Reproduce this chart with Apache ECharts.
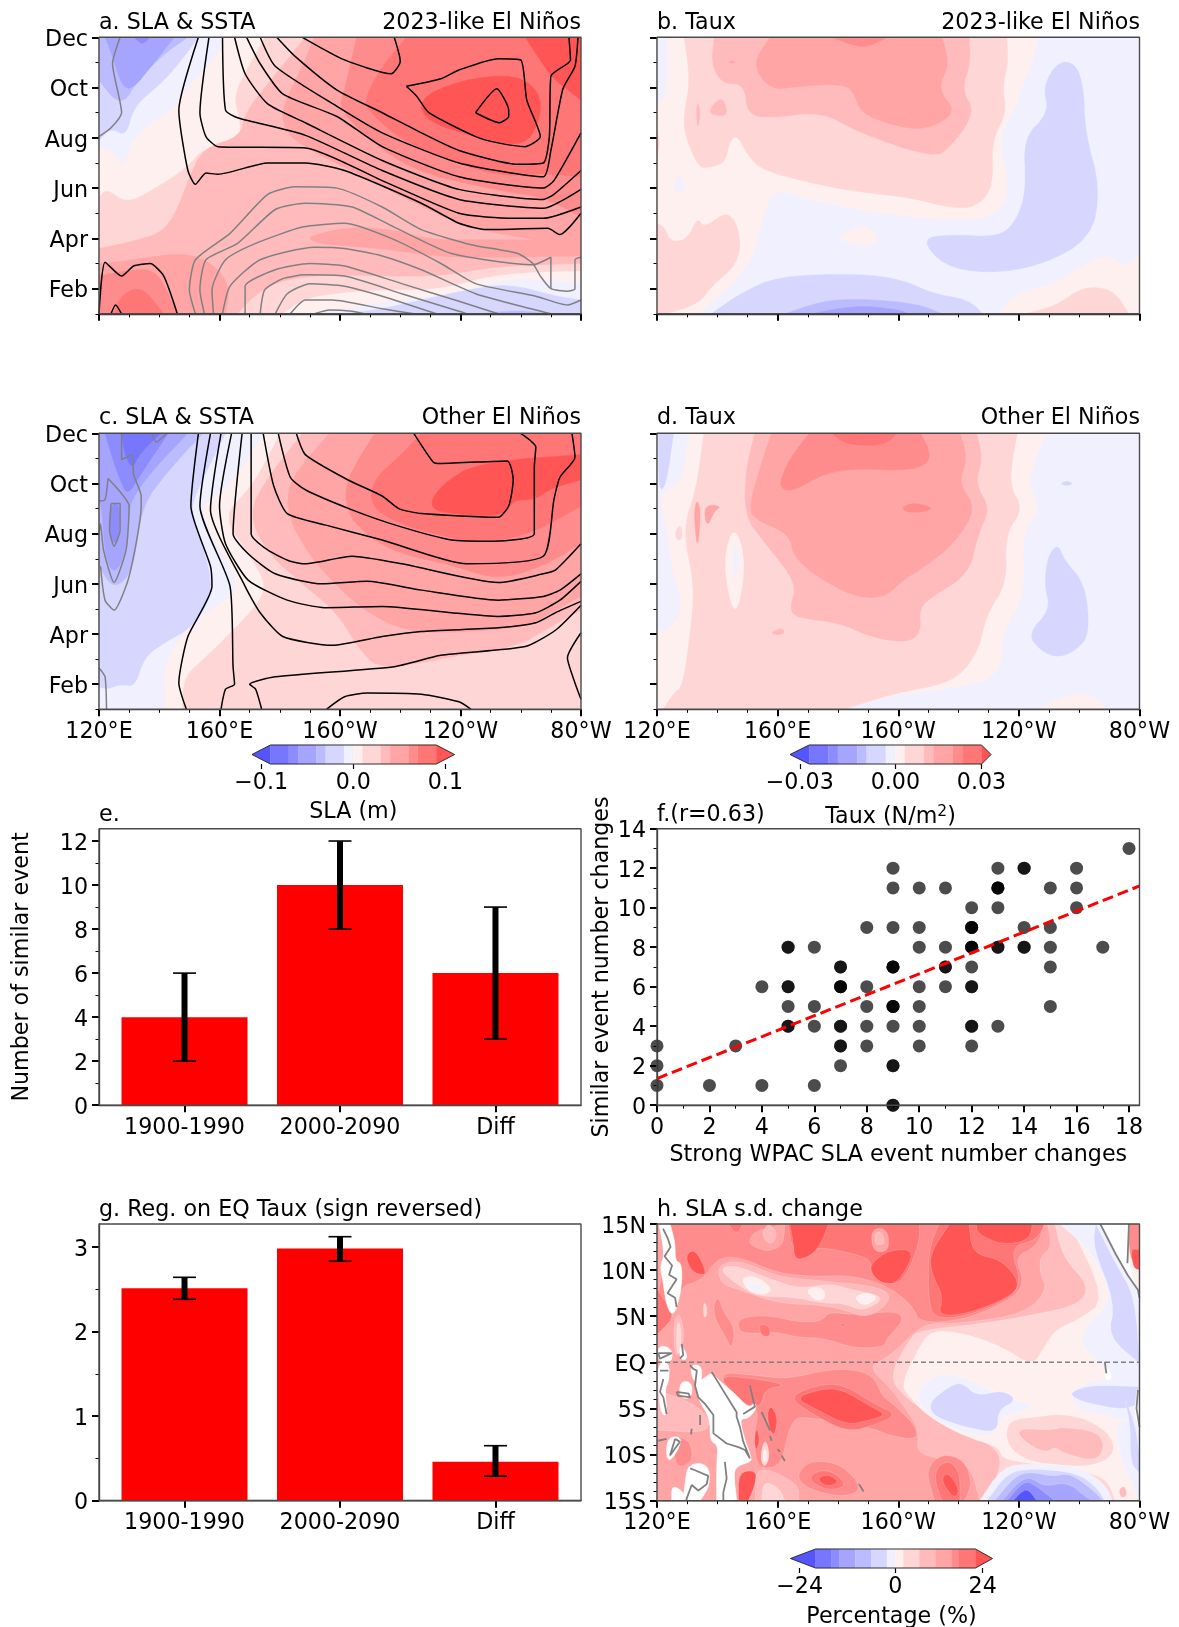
<!DOCTYPE html>
<html><head><meta charset="utf-8">
<style>html,body{margin:0;padding:0;background:#fff}#c{width:1179px;height:1627px}</style>
<script src="https://cdn.jsdelivr.net/npm/echarts@6/dist/echarts.min.js"></script>
</head><body><div id="c"></div>
<script>
// ---------- shared labels and colours ----------
const lonTicks=[120,160,200,240,280], lonLabels=['120°E','160°E','160°W','120°W','80°W'], lonMinor=[130,140,150,170,180,190,210,220,230,250,260,270];
const monthTicks=[2,4,6,8,10,12], monthLabels=['Feb','Apr','Jun','Aug','Oct','Dec'], monthMinor=[1,3,5,7,9,11];
const latTicks=[15,10,5,0,-5,-10,-15], latLabels=['15N','10N','5N','EQ','5S','10S','15S'];
const latMinor=[14,13,12,11,9,8,7,6,4,3,2,1,-1,-2,-3,-4,-6,-7,-8,-9,-11,-12,-13,-14];
const COL={n7:'#5555ff',n6:'#7676ff',n5:'#8c8cff',n4:'#a5a5ff',n3:'#bbbbff',n2:'#d6d6ff',n1:'#f0f0ff',p1:'#fff0f0',p2:'#ffd6d6',p3:'#ffbbbb',p4:'#ffa5a5',p5:'#ff8c8c',p6:'#ff7676',p7:'#ff5555',w:'#ffffff'};
const cbOrder=['n7','n6','n5','n4','n3','n2','n1','p1','p2','p3','p4','p5','p6','p7'];
// ---------- panel a : filled regions (lon, month) ----------
const fullMonth=[[120,12],[280,12],[280,1],[120,1]];
const aBP1=[[280,2.7],[252.5,2.6],[233.5,1.95],[214,1.95],[197.5,1.8],[187.5,1.55],[181,1],[280,1]];
const aBN1=[[280,2.2],[257.5,2.45],[239.5,1.85],[220.5,1.55],[201.5,1.2],[191.5,1],[280,1]];
const aBN2=[[280,1.55],[271.5,1.7],[256,2.2],[242,1.95],[227,1.55],[214,1.2],[201.5,1],[280,1]];
const aBN3=[[246,1],[259,1.15],[270,1]];
const aP1=[[120,12],[175,12],[169.5,10.85],[164.5,9.65],[166.5,8.85],[167,7.9],[154.5,7.6],[149.5,6.85],[138,5.95],[129,5.4],[122.5,6],[120,5.65]];
const aN1=[[120,12],[162,12],[158,11.1],[146.5,9.65],[145.5,9.25],[134,8.3],[130,7.65],[128.5,6.85],[125,7.4],[120,7.65]];
const aN2=[[120,12],[153,12],[146.5,10.95],[140.5,10.15],[131.5,9.25],[129,8.05],[124,8.4],[120,7.9]];
const aN3=[[120,12],[149.5,12],[140.5,11.25],[131.5,10.05],[129,9.5],[125,9.5],[120,10.3]];
const aN4=[[122,12],[145,12],[138,10.95],[131,9.9],[127.5,10.1],[124.5,11.25]];
const aN5=[[131.5,12],[137,12],[134.5,11.7]];
const aP3=[[188.5,12],[280,12],[280,3],[252.5,2.9],[233.5,2.5],[214,2.5],[195,2.55],[181,2.35],[172,1.8],[166,1],[120,1],[120,3.6],[130,3.85],[140.5,4.2],[145.5,5],[149.5,6.3],[154.5,7.6],[167,8.05],[168.5,9],[176,10.15]];
const aP4=[[191.5,12],[280,12],[280,3.6],[265,3.95],[245,4.35],[227,5.25],[208,6.45],[183.5,7.9],[180.5,8.85],[182.5,9.65],[187.5,10.85]];
const aP4b=[[188.5,4],[195,4.25],[204,4.45],[218,4.35],[229.5,3.95],[245,3.95],[265,3.95],[280,3.8],[280,3.3],[252.5,3.25],[233.5,3.25],[214,3.6],[195,3.75]];
const aP4c=[[120,3],[131.5,3.15],[148,3.45],[158,3],[163.5,2.1],[162,1],[120,1]];
const aP5=[[205.5,12],[280,12],[280,4.85],[267.5,5.65],[252.5,5.9],[227,6.6],[214,7.5],[199.5,9.1],[201.5,9.9]];
const aP5c=[[120,2.5],[130,2.75],[139,2.75],[144,1.55],[146,1],[120,1]];
const aP6=[[222,12],[280,12],[280,6.45],[267.5,6.6],[252.5,6.45],[233.5,7.25],[220.5,7.9],[209,9.1],[208.5,9.65],[214,10.85]];
const aP6c=[[125,1],[126.5,1.55],[130,1.95],[135,2],[141.5,1]];
const aP7=[[225.5,9.5],[239.5,10.3],[259,10.55],[267.5,9.65],[265,8.2],[259,7.65],[245,8.05],[229.5,8.6]];
const aP7b=[[261.5,12],[280,12],[280,9.5],[274,10.05],[270,10.45],[265,11.35]];
// panel a : contours
const aBlack=[
[[218,12],[220,11.05],[217,10.55],[201.5,11.1],[187.5,12]],
[[222,10.05],[233.5,10.35],[239.5,10.7],[252.5,11.15],[260,11.1],[262,9.5],[266.5,8.05],[261.5,7.65],[252.5,7.8],[245,8.05],[229.5,9],[225.5,9.65],[222,10.05]],
[[245,9],[252,9.95],[256,9.1],[256,8.85],[253,8.6],[245,9]],
[[179,12],[185,11.25],[199,9.9],[214,9],[227,8.2],[239.5,7.5],[259,6.95],[267.5,7],[269.5,8.05],[270,10.45],[276.5,11.1],[276,12]],
[[173.5,12],[178.5,10.85],[199,9.25],[214,8.2],[239.5,7],[267.5,6.45],[270,7.5],[274,9.95],[278,10.85],[279,12]],
[[169,12],[173.5,10.95],[181,9.75],[199,8.85],[214,7.65],[239.5,6.45],[267.5,6],[271,6.3],[280,8.2]],
[[165,12],[168.5,10.55],[176,9.35],[188.5,8.6],[214,7.1],[239.5,5.95],[267.5,5.55],[271,5.75],[280,6.7]],
[[161,12],[162,9.1],[166,8.8],[188.5,8.1],[214,6.7],[239.5,5.55],[267.5,5.2],[280,5.95]],
[[156.5,12],[153.5,9],[155.5,8.05],[159.5,7.65],[188.5,7.6],[214,6.3],[239.5,5],[257.5,4.8],[267.5,4.8],[280,5.25]],
[[153,12],[146.5,9.1],[149.5,6.7],[152,6.15],[155.5,6.6],[159.5,6.55],[176,7],[188.5,7],[201.5,6.7],[227,5.4],[239.5,4.6],[248.5,4.35],[269,4.4],[273,4.15],[280,5]],
[[120,1],[122,3.05],[127.5,2.5],[131.5,2.9],[137,3],[141.5,2.5],[146,1]],
[[124,1],[125.5,1.35],[127.5,1]]];
const aGray=[
[[127,12],[124.5,10.95],[127.5,9],[124,8.4],[120,8.05]],
[[152,1],[150,1.95],[152,3.15],[163.5,4.2],[176,5.75],[185,6.05],[199,6],[214,5.25],[227,4.35],[243.5,3.75],[259,3.4],[264,3],[266.5,2.5],[270,2],[275.5,1.9],[278,2],[278,3.15],[280,3.25]],
[[155,1],[153.5,1.95],[155.5,3.15],[166,3.8],[178.5,5.15],[188.5,5.4],[204,5.25],[218,4.45],[237,3.4],[264,2.95],[270,3.25],[270,2]],
[[158,1],[157.5,1.95],[162,3.15],[172,3.8],[187.5,4.45],[201.5,4.6],[218,3.95],[233.5,3],[245,2.2],[265,1.7],[275.5,1.35],[280,1.55]],
[[161,1],[163.5,2.1],[173.5,3.15],[191.5,3.65],[201.5,3.6],[214,3.3],[227,2.75],[245,1.8],[265,1.15],[270,1]],
[[168.5,1],[168.5,2.1],[178.5,2.75],[190,3],[201.5,2.9],[220.5,2.2],[239.5,1.5],[252.5,1]],
[[173.5,1],[175,1.95],[181,2.4],[188.5,2.55],[201.5,2.5],[220.5,1.8],[239.5,1.1],[242,1]],
[[178.5,1],[182.5,1.8],[190,2.2],[201.5,2.1],[214,1.7],[232,1]],
[[183.5,1],[188.5,1.55],[197.5,1.55],[214,1.2],[224.5,1]],
[[191.5,1],[196.5,1.15],[204,1.1],[208,1]]];
// ---------- panel b ----------
const bP1=[[123.5,12],[246.5,12],[244.5,10.95],[241,10.05],[239.5,9.25],[233,8.05],[237,6.05],[234,5.15],[227.5,4.7],[211.5,4.75],[187,5.1],[169.5,5.6],[158.5,5.95],[155,4.85],[152.5,3.4],[146.5,2.35],[134,1],[120,1],[120,9.35],[123.5,9.65]];
const bP1b=[[179.5,4],[188.5,4.6],[193.5,4.05],[191.5,3.7],[184.5,3.8]];
const bP1c=[[233.5,1],[238.5,1.8],[252,2.2],[260.5,2.9],[270,3.4],[275,2.8],[280,3.35],[280,1]];
const bN1h=[[125.5,5.95],[127,6.65],[129.5,6],[127.5,5.8]];
const bP2=[[129,12],[236,12],[236.5,10.95],[234.5,10.05],[236,9],[231,7.9],[231.5,6.05],[226,5.25],[217.5,5.2],[205,5.6],[187,5.85],[174.5,6.1],[155,6.7],[150,7.3],[146.5,8.15],[144,7.8],[142.5,7],[137,6.8],[133.5,6.85],[129,8.2],[129,9],[131,10.3]];
const bP2b=[[120,4.6],[122.5,4.45],[124.5,3.85],[130,3.95],[133.5,4.85],[135.5,4.4],[144,5.15],[148,4.05],[146.5,2.95],[138,2.1],[134,1.4],[123,1],[120,1]];
const bP2c=[[242,1],[252,1.3],[261.5,2.1],[271.5,1.95],[276.5,1]];
const bP2d=[[120,8.2],[121,7.9],[120,7.1]];
const bP3=[[139,12],[223.5,12],[224,10.95],[221,9.95],[225.5,9],[217.5,7.65],[211.5,7.2],[187,8.2],[174.5,9.05],[158.5,8.8],[150,8.9],[149,10.15],[141.5,10.15],[138,10.95]];
const bP3b=[[133.5,9.45],[134.5,9],[133.5,8.3],[133,9]];
const bP3c=[[136.5,9],[141.5,9.7],[143.5,9],[141.5,8.85]];
const bP4=[[157.5,12],[214.5,12],[217,10.95],[213,9.95],[219.5,9],[209,8.3],[198,8.5],[187.5,9],[185.5,9.75],[182,10.15],[167,10.05],[157.5,9.9],[151.5,10.95]];
const bP4b=[[143.5,11.05],[146.5,11.05],[144.5,10.95]];
const bP5=[[178,12],[196.5,12],[189.5,11.6],[184.5,11.7]];
const bN2=[[253,11.05],[259,10.95],[261.5,9.95],[262,8.2],[267,6],[264,4],[247,2.9],[229.5,2.6],[215,2.9],[207.5,4],[217.5,4.15],[233.5,4.05],[239.5,4.75],[242.5,6],[241.5,8],[250,9],[248,10.05]];
const bN2b=[[138,1],[147.5,1.8],[160,2.5],[187,2.6],[201.5,2.35],[211.5,1.8],[223.5,1.55],[228,1]];
const bN3=[[162.5,1],[174.5,1.5],[187,1.6],[206.5,1.4],[214.5,1]];
const bN4=[[171,1],[187,1.35],[200.5,1.15],[203.5,1]];
// ---------- panel c ----------
const cP1=[[120,12],[180,12],[171,9.9],[160.5,8.7],[171,6.95],[175.5,5.9],[172,5.1],[163.5,4.05],[155.5,3.1],[148,2.3],[147.5,1],[120,1]];
const cN1=[[120,12],[174.5,12],[163.5,9.9],[153,9.1],[158,7.75],[166,6.15],[163.5,5.5],[155.5,4.85],[148,4.05],[141.5,2.85],[141.5,1],[120,1]];
const cN2=[[120,12],[162,12],[152,9.6],[150.5,8.8],[155.5,7.1],[157.5,5.9],[155.5,5.05],[149.5,4.15],[143,3.75],[135,3.1],[132,1.9],[127.5,2],[122.5,1.8],[120,1.9]];
const cN3=[[120,12],[154.5,12],[144,10.65],[134,9.1],[131.5,6.55],[125,5.75],[120,6.7],[120,8]];
const cN4=[[120,12],[149.5,12],[138,10.55],[131.5,9.5],[130,8.95],[129,7.2],[125,6.35],[122,7.1],[121,8.95],[120,9.35]];
const cN5=[[122,12],[143,12],[134,10.4],[129.5,9.5],[127,10.15],[125,10.8]];
const cN5b=[[124,9.2],[127,9.2],[126.5,7.75],[125,7.6],[123,8.15]];
const cN6=[[127.5,12],[140.5,12],[133.5,11.2],[131,10.55],[128.5,11.2]];
const cP3=[[187.5,12],[280,12],[280,4.95],[270,4.3],[259,3.5],[237,3.1],[227,2.85],[214,2.65],[208,3.1],[199,4.85],[188.5,5.9],[176,7.2],[169.5,8.8],[176,10.25]];
const cP4=[[196.5,12],[280,12],[280,5.5],[270,4.85],[262.5,4.3],[239.5,4.05],[222,4.1],[209,4.85],[199,5.9],[190,7.1],[182.5,8.7],[183,10.15]];
const cP5=[[211.5,12],[280,12],[280,7.6],[267.5,6.7],[252.5,6.15],[237,6.75],[219.5,7.2],[208,8],[202,8.95],[202,10.15]];
const cP6=[[227,12],[280,12],[280,9.1],[264,8],[246,7.6],[231,8],[219.5,8.4],[210,9.1],[211,10.15],[219.5,11.05]];
const cP7=[[229,9],[233.5,9.95],[246,10.85],[280,11.15],[280,10.15],[270,9.8],[264.5,9.35],[257.5,9.35],[254.5,8.7],[239.5,8.75]];
const cBlack=[
[[185.5,12],[188.5,11.15],[202.5,10.15],[214,9.5],[219.5,9],[227,8.8],[252.5,8.65],[256,9.1],[257.5,10.15],[255.5,10.9],[233.5,10.8],[231,10.85],[224.5,12]],
[[179.5,12],[183.5,10.25],[188.5,9.75],[204,8.95],[219.5,8.3],[237,7.75],[251,7.7],[264.5,8],[264.5,10.65],[265,11.45],[260,12]],
[[174.5,12],[178,9.9],[182.5,8.8],[195,8.35],[214,7.75],[242,6.8],[267.5,7.1],[271,9.35],[273,10.25],[278,11.05],[277,12]],
[[170.5,12],[170.5,8],[176,7.35],[183.5,6.9],[188.5,6.8],[204,7.1],[220.5,6.8],[252.5,6.05],[267.5,6.4],[271.5,6.55],[280,7.6]],
[[167.5,12],[164.5,8],[169.5,7.2],[178.5,6.4],[194,6],[209,6.1],[227,5.75],[252.5,5.35],[267.5,5.5],[273,5.75],[280,6.4]],
[[164,12],[160,9.1],[162,7.6],[169.5,6.15],[182.5,5.35],[195,5.05],[214,5.1],[237,4.85],[252.5,4.7],[265,4.85],[273,5.35],[280,6.1]],
[[160.5,12],[157,8.95],[168.5,5.9],[173.5,4.85],[181,3.9],[197.5,3.55],[214,3.9],[227,4.1],[252.5,4.25],[265,4.45],[271.5,4.85],[280,5.3]],
[[157,12],[153.5,9.1],[163.5,5.9],[164.5,2.7],[165,2],[162,1.8],[160.5,1]],
[[153,12],[150.5,9.1],[157,6.7],[157.5,5.9],[149.5,3.9],[146.5,2.05],[149,1]],
[[174,1],[172,1.8],[170,2],[178.5,2.3],[218,2.7],[233.5,3.15],[261.5,3.5],[271.5,4.15],[280,5.15]],
[[195.5,1],[201.5,1.5],[209,1.65],[227,1.6],[239.5,1.3],[243.5,1]],
[[280,4.05],[275.5,3.05],[278,2.05],[280,1.4]]];
const cGray=[
[[127.5,12],[127.5,10.95],[131,11.15],[131.5,10.35],[134,9.5],[134,9.1],[130,6.3],[125,4.95],[122,5.35],[120.5,6.7]],
[[137.5,12],[139,11.65],[142.5,12]],
[[123,10.2],[130,9.1],[129,7.35],[125,6.05],[121.5,7.35],[120.5,8.4],[120,8]],
[[123,10.2],[122,9.35],[120,9.3]],
[[124,9.2],[127,9.2],[127,8.15],[125,7.5],[123.5,8.15],[124,9.2]],
[[120,2.65],[122,2.3],[122.5,1]]];
// ---------- panel d ----------
const dN2a=[[120.5,12],[125.5,12],[123,9.9],[120.5,9.7]];
const dP1=[[130.5,12],[249,12],[242.5,10],[247.5,9],[241,8],[242,5.5],[234.5,4.05],[234,2.3],[217.5,1.8],[199,1.6],[182,1],[120,1],[120,4.15],[123,4.1],[129,4.95],[124.5,6.8],[123,8.4],[120.5,9.6],[128.5,10]];
const dP1b=[[245.5,1],[258,1.65],[265.5,1.5],[269,1]];
const dP2=[[135.5,12],[239.5,12],[236.5,10],[241.5,9],[235.5,8],[236,6],[229.5,4.85],[226,3.1],[217.5,2.05],[199,1.65],[182,1],[122,1],[125.5,1.65],[128.5,1.9],[131,4],[132.5,5.9],[128.5,8.15],[133,9.75]];
const dP1h=[[145.5,8.4],[149.5,6.95],[147,4.95],[144.5,5.1],[142,6.95]];
const dN1h=[[146,7.6],[147.5,6.95],[146,6.15],[145,6.95]];
const dBump=[[126,8.1],[128,8.4],[128.5,7.75],[126.5,7.75]];
const dP3=[[152.5,12],[226,12],[228,11],[225.5,10],[230.5,9],[226.5,8],[223.5,6.4],[211.5,5.5],[207,5.05],[207.5,4.05],[203,3.65],[191.5,3.85],[180.5,4.45],[166,4.65],[164,5.05],[166.5,6],[156,7.6],[149,8.7],[149.5,10.65]];
const dP3b=[[157.5,4.05],[161.5,4.25],[162.5,4.05],[160,3.95]];
const dP4=[[158,12],[220.5,12],[223,11],[220,10],[226,9],[218.5,7.6],[209,6.7],[201.5,6.15],[196.5,5.55],[189.5,5.4],[179.5,5.8],[165.5,6.95],[164,8],[152.5,8.55],[150.5,9.1],[155,10.95]];
const dP4b=[[132.5,9.1],[133.5,9.35],[134.5,8.8],[133.5,7.35],[132.5,8.3]];
const dP4c=[[135.5,9.15],[141.5,9.1],[139,8.9],[136.5,8.2]];
const dP5=[[170.5,12],[207.5,12],[211.5,11],[205,10.5],[184.5,10.6],[174.5,10.35],[167,9.8],[162.5,9.7],[160.5,10],[164,11]];
const dP5b=[[200.5,9],[205,9.25],[212.5,9],[205,8.8]];
const dP6=[[178,12],[199.5,12],[196.5,11.6],[189.5,11.5],[182,11.6]];
const dN2=[[253,7.6],[255,6.95],[262,6],[263.5,4],[259,3.35],[253,3.05],[247,3.35],[243,4],[250.5,5],[248.5,5.9],[249.5,7.1]];
const dN2b=[[253.5,10],[256,10.1],[258,10],[256,9.9]];
// ---------- panel e / g : bars ----------
const barCats=['1900-1990','2000-2090','Diff'];
const barPos=[0,1,2];
const eValues=[4,10,6], eErrLow=[2,8,3], eErrHigh=[6,12,9];
const gValues=[2.51,2.98,0.46], gErrLow=[2.38,2.83,0.29], gErrHigh=[2.64,3.12,0.65];
// ---------- panel f : scatter ----------
const fX=[18,9,13,14,14,16,9,10,11,13,13,13,15,16,12,13,16,8,9,10,12,12,12,14,15,5,5,6,10,11,12,12,12,13,13,14,14,15,17,7,7,9,9,9,11,11,12,15,4,5,5,7,7,7,8,10,11,12,12,5,6,8,9,9,9,10,15,5,5,6,7,7,8,9,10,12,12,13,0,3,7,7,8,10,12,0,7,9,9,0,2,4,6,9,9];
const fY=[13,12,12,12,12,12,11,11,11,11,11,11,11,11,10,10,10,9,9,9,9,9,9,9,9,8,8,8,8,8,8,8,8,8,8,8,8,8,8,7,7,7,7,7,7,7,7,7,6,6,6,6,6,6,6,6,6,6,6,5,5,5,5,5,5,5,5,4,4,4,4,4,4,4,4,4,4,4,3,3,3,3,3,3,3,2,2,2,2,1,1,1,1,0,0];
const fFitX=[0,18.4], fFitY=[1.35,11.1];
// ---------- panel h ----------
const fullLat=[[120,15],[280,15],[280,-15],[120,-15]];
const hP4=[[120,15],[249.5,15],[251,12.55],[247,11.45],[247,9.65],[249.5,7.85],[242,5.3],[222,4.25],[210,4.25],[205,3.15],[197,0.6],[190,-0.45],[197,-2.65],[202,-4.8],[207,-7.35],[206,-10.2],[223.5,-10.6],[227,-15],[120,-15]];
const hP3L=[[125.4,4.4],[127.6,5.5],[129.3,2.6],[126,0]];
const hP2L=[[126.5,4.5],[128,4],[128,1.5],[126.5,0.7]];
const hP6L=[[120,8],[124,6],[125.5,4.8],[120,3]];
const hP3SW=[[120,-3],[135,-4.8],[138.5,-7.7],[120,-7.35]];
const hP2E=[[252,15],[280,15],[280,-15],[229.5,-15],[234.5,-10.95],[232,-9.15],[222,-7.7],[210,-5.55],[202,-3.7],[197,-1.55],[203.5,2.4],[207,3.5],[229.5,4.25],[247,5.3],[259.5,6.2],[263.5,8.2],[254.5,11.45]];
const hP1E=[[257,15],[280,15],[280,-15],[272,-15],[269,-12.4],[253.5,-11.3],[234.5,-10.6],[233.5,-9.15],[222,-8.05],[210,-5.9],[203.5,-3.7],[201,-2.3],[207,1.7],[211,3.5],[222,3.15],[234.5,1.7],[244.5,-0.45],[248.5,1.7],[252,3.5],[259.5,4.6],[269,6.75]];
const hB2=[[236,-6.25],[247,-5.9],[253.5,-5.55],[263.5,-6.25],[271,-8.05],[271.5,-10.2],[263.5,-11.3],[253.5,-11.15],[243.5,-10.75],[236,-9.15]];
const hB3=[[239.5,-7.15],[251,-7.35],[254.5,-7],[266,-7.5],[268.5,-9.15],[265.5,-10.75],[254.5,-9.85],[252,-9.15],[248.5,-9.85],[241,-8.4]];
const hN1a=[[205,-3.7],[212,-1.2],[222,-1.55],[229.5,-3],[239.5,-4.1],[246,-4.8],[233.5,-5.9],[232,-8.05],[222,-7.7],[212,-6.25]];
const hN2a=[[210,-4.45],[216,-2.8],[221,-2.1],[226,-3.7],[234.5,-3],[239.5,-4.1],[233,-5.15],[233,-7.7],[222,-7],[212,-5.9]];
const hN1R=[[253.5,15],[267.5,15],[280,7.5],[280,-7],[272,-5.9],[259.5,-5.15],[257,-3.35],[264.5,-1.9],[272,-1.9],[269.5,-0.85],[261,1.7],[261,3.5],[272,7.1],[263.5,12.2]];
const hN1Rl=[[272,-5.9],[280,-7],[280,-15],[278.5,-13.85],[273.5,-10.2]];
const hN2R1=[[265.5,15],[272,10.75],[278.5,7.1],[280,-0.1],[269.5,2.8],[272,6.4],[264.5,12.55]];
const hN2R2=[[257,-3.2],[264.5,-2.45],[280,-2.65],[280,-4.45],[274.5,-5.15],[263.5,-4.45],[258.5,-3.9]];
const hN2R3=[[274.5,-3.35],[278.5,-6.6],[280,-10.2],[280,-12],[277,-10.95],[277,-6.6]];
const hBN1=[[227,-15],[234.5,-11.3],[244.5,-10.95],[259.5,-11.3],[268.5,-13.1],[271,-15]];
const hBN2=[[229.5,-15],[236,-12],[244.5,-11.5],[259.5,-12],[266,-13.65],[268.5,-15]];
const hBN3=[[232,-15],[238.5,-12.4],[244,-11.85],[251,-12.4],[257,-12],[264.5,-13.85],[268,-15]];
const hBN4=[[234.5,-15],[239.5,-13.1],[243.5,-12.4],[248.5,-13.5],[256,-12.95],[262,-14.55],[264.5,-15]];
const hBN5=[[236,-15],[241,-13.1],[244,-12.95],[252,-15]];
const hBN7=[[238,-15],[242.5,-13.5],[246,-15]];
const hP5N=[[124,15],[248.5,15],[246,12.55],[238.5,11.45],[242,8.55],[237,6.75],[222,4.6],[207,4.25],[205,6.05],[197,8.2],[185,9.45],[172.5,9.3],[160,9.65],[147.5,11.45],[140,11.3],[135,8.9],[127.5,8.2],[127.5,5.7],[120.5,4.25],[120,6.4]];
const hP6N=[[163.5,15],[207,15],[207,12.9],[202,8.9],[197,8.4],[191,9.65],[191,11.1],[185,11.8],[173.5,12.55],[165,11.8]];
const hP6N2=[[213.5,15],[248.5,15],[246,13.25],[237,12.55],[241,8.55],[236,6.75],[222,4.95],[212,4.75],[210,6.75],[210,12.2]];
const hP7E=[[210.5,11.8],[217,15],[223.5,15],[224.5,11.8],[234.5,11.1],[240.5,8.55],[237,7.1],[223.5,5.3],[213,5],[215,7.1],[211,9.65]];
const hP7E2=[[226,15],[244.5,15],[243.5,13.25],[234.5,12.7],[226,14]];
const hP7M=[[191,10.75],[197,12.2],[206,12.2],[200,8.55],[194.5,8.55],[191,9.65]];
const hP7U=[[164,15],[176.8,15],[174.6,13],[171.3,11.6],[165.7,11],[165.2,13]];
const hP6top=[[143.6,15],[148.6,15],[146.4,13.8]];
const hP7a=[[129.3,11.6],[132.6,12.3],[135.9,10.2],[135.9,9.4],[131.5,9.8]];
const hP4s1=[[150.3,13],[152.5,14.3],[162.4,15],[161.9,12.7],[156.9,12],[152.5,12.5]];
const hP3s1=[[154.7,14.1],[156.9,15],[159.7,14.3],[159.1,13],[156.4,12.9]];
const hP4s2=[[191,14.5],[196.5,14.5],[197,12],[191.5,12]];
const hP3s2=[[192,14],[194.5,14.2],[195.5,13],[194.5,12.7],[192.5,12.8]];
const hP5k=[[138.7,6.2],[140.3,7.2],[142,5.5],[145.9,3.7],[144.8,1.3],[142.5,2.9],[139.2,4.7]];
const hP6k=[[139.8,6],[140.6,6.3],[140.8,5.6]];
const hP2k=[[135.4,6.5],[136.5,6.2],[136.5,4.9],[135.4,4.9]];
const hP5mid=[[147,4.9],[158,5.1],[165.7,4.4],[174.6,4.4],[176.8,5.5],[185.6,5.1],[198.9,5.6],[202.2,4.7],[196,2.5],[195.6,1.7],[185.6,1.5],[175.7,2.6],[166.8,2.7],[159.1,3.3],[152.5,3.1],[147,3.3]];
const hP6mid=[[180.1,4.2],[182.9,4.2],[181.8,3.85]];
const hP6mid2=[[154.1,4.2],[157.5,3.9],[157.5,2.8],[155,2.8],[154,3.5]];
const hP3W=[[140,10.55],[147.5,11.1],[160,9.3],[172.5,8.9],[194.5,8.2],[198,6.75],[190,4.75],[182,5.7],[175,6.2],[160,6.4],[147.5,7.85],[141,8.55]];
const hP2W=[[140.5,10.2],[146,10.55],[158.5,8.9],[167.5,8],[177.5,8.55],[185,7.85],[196,7.1],[188.5,5.5],[182,6.4],[175,6.4],[165,7.1],[153.5,7.1],[146,8.55]];
const hP1W1=[[147.5,9.1],[152.5,9.45],[158.5,8],[156,7.3],[151,7.5]];
const hP1W2=[[169,8],[175,8.2],[176,6.95],[172.5,6.6]];
const hP1W3=[[185,7.1],[190,7.65],[193.5,6.95],[188.5,6.05]];
const hN1W1=[[149,8.4],[153.5,8.55],[156,8],[152.5,7.65]];
const hN1W2=[[187.5,7.1],[190.5,7.1],[189,6.6]];
const hP5S=[[139.5,-1],[152.5,-1.4],[163.5,-1.8],[177.9,-0.7],[187.8,-0.9],[192.3,-1.8],[194.5,-3.6],[200,-5],[206,-7],[206,-8.4],[198,-8],[190,-7],[169,-5.9],[165.7,-6.1],[163.5,-7.55],[162,-10],[160.2,-11.2],[156,-11.5],[153,-11],[152,-8],[154,-5],[148,-4.5]];
const hP6S=[[163.5,-3.8],[172.4,-2.5],[181.5,-2.3],[192.5,-4.6],[200,-5.7],[190.5,-7],[182.5,-7.5],[171.5,-5.6]];
const hP6S2=[[140.3,-1.4],[153.6,-1.8],[163.5,-2.5],[155.8,-2.85],[154.7,-4.7],[150.3,-4.85],[144.8,-3.2]];
const hP7S=[[165.7,-3.9],[172.9,-3],[180.7,-2.8],[191.2,-4.85],[196.1,-5.7],[190,-6.3],[182.9,-6.8],[173.5,-5.2]];
const hP5b=[[166.8,-11.9],[171.3,-10.6],[181.2,-11],[188.4,-13.7],[182.3,-14.6],[172.4,-14],[167.4,-13]];
const hP6b=[[170.2,-12.25],[176.8,-11.5],[183.4,-13.3],[177.9,-13.9],[172.4,-13.3]];
const hP7b=[[172.9,-12.6],[176.8,-12.1],[180.7,-13],[176.2,-13.5]];
const hP5c=[[209,-11.65],[214.5,-9.85],[222,-10.6],[224.5,-13.1],[222,-15],[212,-15]];
const hP6c=[[213,-11.3],[217,-10.6],[220.5,-12],[220.5,-15],[214.5,-15],[212,-12.75]];
const hP7c=[[214,-12.75],[216.5,-11.85],[220.5,-13.85],[218.5,-14.85]];
const hP7d=[[157.5,-4.5],[160.2,-6.1],[158.6,-8.3],[156.4,-6.1]];
const hP7e=[[153,-7],[154.1,-8.3],[153,-9.7],[152.2,-8.5]];
const hP3g=[[152.5,-11],[167,-13.1],[167,-15],[152.5,-15]];
const hP2g=[[155.3,-12.8],[160.8,-13.7],[162.4,-15],[154.7,-15]];
const hP7f=[[147,-11.9],[153,-11.7],[152.5,-13.3],[150.3,-15],[147,-15]];
const hP2h=[[155.8,-8.1],[157.5,-10.1],[155.8,-11.5],[154.1,-10.4]];
const hP1g=[[155.8,-9.2],[156.8,-10.2],[155.8,-11],[155,-10.2]];
const hP5w=[[126,-8],[131,-8.5],[132,-10.5],[128,-11.5],[125.5,-10.5]];
const hP5T=[[276.5,15],[280,15],[280,10],[276.5,11.45]];
const hP7T=[[277,12.35],[280,12.2],[280,10],[278,10.2]];
const hP3se=[[273,-13.85],[275,-13.3],[276,-14.4],[274,-14.75]];
// land mask
const hW1=[[138.1,-1.05],[140.9,-2.1],[145.9,-3.4],[150.3,-5],[152.5,-4.3],[153,-5],[150.3,-6.1],[147.5,-6.1],[148.6,-7.9],[151.4,-10.4],[150.8,-10.8],[147,-11.2],[145.3,-11.9],[146.4,-15],[139.8,-15],[139.8,-10.8],[140.3,-9],[137.6,-8.5],[137.6,-6.1],[133.7,-4],[132.6,-2.1],[135.5,-1.8]];
const hW2=[[120.7,15],[124.3,15],[126,13],[126,11],[128.2,10.7],[128.2,8.3],[126.5,5.8],[124.9,5.1],[123.2,6.2],[122,8.7],[121,10.5],[122.6,11.6]];
const hW3=[[120.4,0],[124,0],[124,-2],[122.5,-3],[123.5,-5.7],[121.5,-5.7],[120.4,-3]];
const hW3b=[[120.4,1.9],[124.9,1.5],[125,0],[120.4,0]];
const hW3c=[[127.6,2],[129.8,1],[129.8,0.3],[127.6,0.3]];
const hW4=[[123.8,-8.1],[128.2,-8.1],[127,-9.5],[124,-10.8],[123,-9.8]];
const hW5=[[130.4,-11],[137,-11],[137.6,-13.3],[134.3,-15],[128.7,-15],[129.3,-13]];
const hW6=[[124.9,-13.3],[128.7,-14],[129.3,-15],[124.9,-15]];
const hW7=[[267,15],[276.5,15],[276,10.75],[279.5,7.85],[272,11.8]];
const hW8=[[279,-3],[280,-3],[280,-7],[278.5,-5.9]];
const hW9=[[127.6,-2.1],[131.5,-2.1],[131.5,-3.9],[127.6,-3.9]];
const hW10=[[269,-0.1],[271,-1.9],[268.5,-1.9]];
const hW11=[[131,-0.3],[134.8,-0.3],[134.8,-2.1],[132,-2.1]];
// coastlines
const hCoast=[
[[122,14.5],[123.5,13.5],[124.5,12.5],[122.5,11.5],[125,10.5],[124,9.5],[126.5,9],[123.5,7.5],[126,7],[126.5,6]],
[[120.4,1],[124.9,1],[121,0.4],[120.4,1]],[[128.2,2],[128.7,0.8],[127.6,0.4]],
[[138.1,-1.05],[139.2,-1.6],[146.4,-5.4],[146.4,-5.9],[147.5,-7],[148.6,-8.6],[150.8,-10.4],[149.2,-9.5],[147,-9.2],[143.1,-8.8],[138.7,-7.7],[138.7,-5.7],[135.9,-4.5],[133.7,-3.8],[132.6,-2.5],[133.2,-0.9],[132,-0.7],[130.9,-0.3]],
[[148.6,-5.6],[152.5,-4.8],[151.9,-4.1],[150.8,-2.5]],
[[154.7,-5.4],[157.5,-7.4]],[[157.5,-8],[158,-8.5]],[[160,-9.4],[160.8,-9.7]],[[161.3,-10.1],[162.4,-10.7]],
[[142.5,-10.8],[143.1,-12.6],[142,-14.1],[142,-15]],
[[131,-11.5],[132.6,-11.7],[137,-12.3],[136.5,-13.2],[133.7,-13.9],[131.5,-13.3],[129.8,-14.8],[129.8,-15]],
[[126,-8.3],[127.6,-8.6],[124.3,-10.1],[123.8,-9.9],[126,-8.3]],[[120.4,-8.5],[123.2,-8.3]],
[[122.1,-1.8],[121,-3.2],[122.1,-3.8],[123.2,-5.6]],[[121,-0.9],[123.8,-0.9]],
[[126.5,-3.2],[130.5,-3.4],[131,-3.8],[127,-3.6],[126.5,-3.2]],
[[134.3,-5.7],[134.3,-6.8]],[[131.5,-7.2],[131.3,-7.8]],
[[187,-13.2],[188.5,-14]],[[268.5,0.05],[269,-1.2]],
[[267,15],[272,11.8],[276,9.5],[279.5,7.85],[280,7]],[[276.5,15],[276,10.75]],[[279.5,-3],[279,-5],[280,-7]]];
const hEq=[[120,0],[280,0]];
// ---------- colour bars ----------
const cbSla=[-0.11,-0.09,-0.07,-0.06,-0.04,-0.03,-0.01,0,0.01,0.03,0.04,0.06,0.07,0.09,0.11];
const cbSlaTicks=[-0.1,0,0.1], cbSlaLabels=['−0.1','0.0','0.1'];
const cbTaux=[-0.0367,-0.03,-0.0233,-0.02,-0.0133,-0.01,-0.0033,0,0.0033,0.01,0.0133,0.02,0.0233,0.03,0.0333];
const cbTauxTicks=[-0.0333,0,0.03], cbTauxLabels=['−0.03','0.00','0.03'];
const cbPct=[-28.8,-21.9,-17.5,-15.3,-11,-6.6,-2.3,0,2.2,6.6,11,15.4,17.5,22,26.7];
const cbPctTicks=[-26.3,0,24], cbPctLabels=['−24','0','24'];

// ---------- layout and builders ----------
const FF='DejaVu Sans', FS=22.2, TXT='#000';
const grids=[
 {left:99,top:37.3,width:482,height:276.5},{left:657,top:37.3,width:482.5,height:276.5},
 {left:99,top:433.3,width:482,height:276},{left:657,top:433.3,width:482.5,height:276},
 {left:99,top:828.7,width:482,height:276.5},{left:657,top:828.7,width:482.5,height:276.5},
 {left:99,top:1224,width:482,height:276.7},{left:657,top:1224,width:482.5,height:276.7},
 {left:252,top:745,width:202.6,height:19},{left:790,top:745,width:201,height:19},{left:790.5,top:1549,width:202,height:19}
].map(g=>Object.assign(g,{outerBoundsMode:'none'}));
const xAxes=[],yAxes=[];
function addAxis(list,g,pos,min,max,majors,labels,minors,extra){
  const base={gridIndex:g,type:'value',min,max,position:pos,splitLine:{show:false},silent:true};
  const idx=list.length;
  const isY=pos==='left';
  const lab=labels?(v=>{let b=0;majors.forEach((m,i)=>{if(Math.abs(m-v)<Math.abs(majors[b]-v))b=i;});return (isY?'\n':'')+labels[b];}):undefined;
  const labelStyle={show:!!labels,customValues:majors,margin:isY?11:12,hideOverlap:false,showMinLabel:true,showMaxLabel:true,
      fontFamily:FF,fontSize:FS,color:TXT,formatter:lab};
  if(isY)labelStyle.lineHeight=6;
  list.push(Object.assign({},base,{
    axisLine:{show:true,onZero:false,lineStyle:{color:'#333',width:1.3}},
    axisTick:{show:true,length:7,customValues:majors,lineStyle:{color:'#000',width:2}},
    axisLabel:labelStyle
  },extra||{}));
  list.push(Object.assign({},base,{axisLine:{show:false,onZero:false},
    axisTick:{show:minors.length>0,length:3.5,customValues:minors,lineStyle:{color:'#000',width:1}},axisLabel:{show:false}}));
  return idx;
}
function chaikin(pts,pinned,n){
  let P=pts,F=pinned;
  for(let k=0;k<n;k++){
    const Q=[],G=[],L=P.length;
    for(let i=0;i<L;i++){
      const v=P[i],u=P[(i-1+L)%L],w=P[(i+1)%L];
      if(F[i]){Q.push(v);G.push(true);}
      else{
        Q.push([.25*u[0]+.75*v[0],.25*u[1]+.75*v[1]]);G.push(false);
        Q.push([.75*v[0]+.25*w[0],.75*v[1]+.25*w[1]]);G.push(false);
      }
    }
    P=Q;F=G;
  }
  return P;
}
function fills(gx,gy,xr,yr,layers,iter,edge){
  return {type:'custom',coordinateSystem:'cartesian2d',xAxisIndex:gx,yAxisIndex:gy,silent:true,z:2,animation:false,clip:true,
    data:layers.map((_,i)=>[i]),
    renderItem(params,api){
      const L=layers[params.dataIndex],pts=L[1];
      const pinned=pts.map(p=>p[0]===xr[0]||p[0]===xr[1]||p[1]===yr[0]||p[1]===yr[1]);
      const px=chaikin(pts.map(p=>api.coord(p)),pinned,iter===undefined?2:iter);
      const s=(edge&&L[0]!=='w')?edge:COL[L[0]];
      return {type:'polygon',shape:{points:px},style:{fill:COL[L[0]],stroke:s,lineWidth:edge?0.7:0.4}};
    }};
}
function lines(gx,gy,arr,color,w,smooth,dash){
  return arr.map(d=>({type:'line',xAxisIndex:gx,yAxisIndex:gy,data:d,showSymbol:false,silent:true,z:4,smooth:smooth===undefined?0.2:smooth,
    animation:false,clip:true,lineStyle:{color,width:w||1.5,type:dash||'solid'}}));
}
function frame(gx,gy,x0,x1,y0,y1){
  return {type:'line',xAxisIndex:gx,yAxisIndex:gy,data:[[x0,y0],[x1,y0],[x1,y1],[x0,y1],[x0,y0]],showSymbol:false,silent:true,z:6,animation:false,clip:false,
    lineStyle:{color:'#4a4a4a',width:1.4}};
}
function bars(gx,gy,vals,lo,hi){
  return [
   {type:'bar',xAxisIndex:gx,yAxisIndex:gy,data:barPos.map((x,i)=>[x,vals[i]]),barWidth:126,itemStyle:{color:'#ff0000'},silent:true,z:2,animation:false},
   {type:'custom',xAxisIndex:gx,yAxisIndex:gy,silent:true,z:3,animation:false,data:barPos.map((x,i)=>[x,lo[i],hi[i]]),
    renderItem(p,api){
      const a=api.coord([api.value(0),api.value(1)]),b=api.coord([api.value(0),api.value(2)]);
      const ln=(x1,y1,x2,y2,w)=>({type:'line',shape:{x1,y1,x2,y2},style:{stroke:'#000',lineWidth:w}});
      return {type:'group',children:[ln(a[0],a[1],b[0],b[1],6),ln(a[0]-11.5,a[1],a[0]+11.5,a[1],1.6),ln(b[0]-11.5,b[1],b[0]+11.5,b[1],1.6)]};
    }}];
}
function colorbar(gx,gy,edges){
  const n=edges.length-1;
  return [{type:'custom',xAxisIndex:gx,yAxisIndex:gy,silent:true,z:2,animation:false,data:cbOrder.map((c,i)=>[i]),
    renderItem(p,api){
      const i=p.dataIndex,e0=edges[i],e1=edges[i+1];
      let q;
      if(i===0)q=[[e0,.5],[e1,0],[e1,1]];
      else if(i===n-1)q=[[e0,0],[e1,.5],[e0,1]];
      else q=[[e0,0],[e1,0],[e1,1],[e0,1]];
      return {type:'polygon',shape:{points:q.map(a=>api.coord(a))},style:{fill:COL[cbOrder[i]],stroke:COL[cbOrder[i]],lineWidth:.3}};
    }},
   {type:'line',xAxisIndex:gx,yAxisIndex:gy,data:[[edges[0],.5],[edges[1],0],[edges[n-1],0],[edges[n],.5],[edges[n-1],1],[edges[1],1],[edges[0],.5]],
    showSymbol:false,silent:true,z:5,animation:false,clip:false,lineStyle:{color:'#333',width:1}}];
}

const series=[];
function mapPanel(g,showX,showY,layers,black,gray){
  const gx=addAxis(xAxes,g,'bottom',120,280,lonTicks,showX?lonLabels:null,lonMinor);
  const gy=addAxis(yAxes,g,'left',1,12,monthTicks,showY?monthLabels:null,monthMinor);
  series.push(fills(gx,gy,[120,280],[1,12],layers));
  if(black)series.push(...lines(gx,gy,black,'#000'));
  if(gray)series.push(...lines(gx,gy,gray,'#808080'));
  series.push(frame(gx,gy,120,280,1,12));
}
mapPanel(0,false,true,[['p2',fullMonth],['p1',aBP1],['n1',aBN1],['n2',aBN2],['n3',aBN3],['p1',aP1],['n1',aN1],['n2',aN2],['n3',aN3],['n4',aN4],['n5',aN5],['p3',aP3],['p4',aP4],['p4',aP4b],['p4',aP4c],['p5',aP5],['p5',aP5c],['p6',aP6],['p6',aP6c],['p7',aP7],['p7',aP7b]],aBlack,aGray);
mapPanel(1,false,false,[['n1',fullMonth],['p1',bP1],['p1',bP1b],['p1',bP1c],['n1',bN1h],['p2',bP2],['p2',bP2b],['p2',bP2c],['p2',bP2d],['p3',bP3],['p3',bP3b],['p3',bP3c],['p4',bP4],['p4',bP4b],['p5',bP5],['n2',bN2],['n2',bN2b],['n3',bN3],['n4',bN4]]);
mapPanel(2,true,true,[['p2',fullMonth],['p1',cP1],['n1',cN1],['n2',cN2],['n3',cN3],['n4',cN4],['n5',cN5],['n5',cN5b],['n6',cN6],['p3',cP3],['p4',cP4],['p5',cP5],['p6',cP6],['p7',cP7]],cBlack,cGray);
mapPanel(3,true,false,[['n1',fullMonth],['n2',dN2a],['p1',dP1],['p1',dP1b],['p2',dP2],['p1',dP1h],['n1',dN1h],['p2',dBump],['p3',dP3],['p3',dP3b],['p4',dP4],['p4',dP4b],['p4',dP4c],['p5',dP5],['p5',dP5b],['p6',dP6],['n2',dN2],['n2',dN2b]]);
{
 const gx=addAxis(xAxes,4,'bottom',-0.55,2.55,barPos,barCats,[]);
 const gy=addAxis(yAxes,4,'left',0,12.56,[0,2,4,6,8,10,12],['0','2','4','6','8','10','12'],[1,3,5,7,9,11],
   {name:'Number of similar event',nameLocation:'middle',nameGap:66,nameRotate:90,nameTextStyle:{fontFamily:FF,fontSize:FS,color:TXT}});
 series.push(...bars(gx,gy,eValues,eErrLow,eErrHigh));series.push(frame(gx,gy,-0.55,2.55,0,12.56));
}
{
 const gx=addAxis(xAxes,5,'bottom',0,18.4,[0,2,4,6,8,10,12,14,16,18],['0','2','4','6','8','10','12','14','16','18'],[1,3,5,7,9,11,13,15,17],
   {name:'Strong WPAC SLA event number changes',nameLocation:'middle',nameGap:39,nameTextStyle:{fontFamily:FF,fontSize:FS,color:TXT}});
 const gy=addAxis(yAxes,5,'left',0,14,[0,2,4,6,8,10,12,14],['0','2','4','6','8','10','12','14'],[1,3,5,7,9,11,13],
   {name:'Similar event number changes',nameLocation:'middle',nameGap:44,nameRotate:90,nameTextStyle:{fontFamily:FF,fontSize:FS,color:TXT}});
 series.push({type:'scatter',xAxisIndex:gx,yAxisIndex:gy,data:fX.map((x,i)=>[x,fY[i]]),symbolSize:13,silent:true,z:3,clip:true,animation:false,itemStyle:{color:'rgba(0,0,0,0.7)',borderWidth:0,opacity:1}});
 series.push({type:'line',xAxisIndex:gx,yAxisIndex:gy,data:fFitX.map((x,i)=>[x,fFitY[i]]),showSymbol:false,silent:true,z:4,animation:false,lineStyle:{color:'#ff0000',width:3,type:[11,5]}});
 series.push(frame(gx,gy,0,18.4,0,14));
}
{
 const gx=addAxis(xAxes,6,'bottom',-0.55,2.55,barPos,barCats,[]);
 const gy=addAxis(yAxes,6,'left',0,3.27,[0,1,2,3],['0','1','2','3'],[0.5,1.5,2.5]);
 series.push(...bars(gx,gy,gValues,gErrLow,gErrHigh));series.push(frame(gx,gy,-0.55,2.55,0,3.27));
}
{
 const gx=addAxis(xAxes,7,'bottom',120,280,lonTicks,lonLabels,lonMinor);
 const gy=addAxis(yAxes,7,'left',-15,15,latTicks,latLabels,latMinor);
 series.push(fills(gx,gy,[120,280],[-15,15],[['p3',fullLat],['p4',hP4],['p3',hP3L],['p2',hP2L],['p3',hP3SW],['p5',hP5N],['p6',hP6L],['p6',hP6N],['p6',hP6N2],['p6',hP6top],['p7',hP7U],['p7',hP7a],['p4',hP4s1],['p3',hP3s1],['p4',hP4s2],['p3',hP3s2],['p7',hP7E],['p7',hP7E2],['p7',hP7M],['p5',hP5mid],['p5',hP5k],['p6',hP6k],['p2',hP2k],['p6',hP6mid],['p6',hP6mid2],
  ['p3',hP3W],['p2',hP2W],['p1',hP1W1],['p1',hP1W2],['p1',hP1W3],['n1',hN1W1],['n1',hN1W2],
  ['p5',hP5S],['p6',hP6S],['p6',hP6S2],['p7',hP7S],['p5',hP5b],['p6',hP6b],['p7',hP7b],['p5',hP5c],['p6',hP6c],['p7',hP7c],['p5',hP5w],
  ['p3',hP3g],['p2',hP2g],['p7',hP7d],['p7',hP7e],['p7',hP7f],['p2',hP2h],['p1',hP1g],
  ['p2',hP2E],['p1',hP1E],['p2',hB2],['p3',hB3],['n1',hN1a],['n2',hN2a],['n1',hN1R],['n1',hN1Rl],['n2',hN2R1],['n2',hN2R2],['n2',hN2R3],
  ['n1',hBN1],['n2',hBN2],['n3',hBN3],['n4',hBN4],['n5',hBN5],['n7',hBN7],['p5',hP5T],['p7',hP7T],['p3',hP3se],
  ['w',hW1],['w',hW2],['w',hW3],['w',hW3b],['w',hW3c],['w',hW4],['w',hW5],['w',hW6],['w',hW7],['w',hW8],['w',hW9],['w',hW10],['w',hW11]],2,'rgba(255,255,255,0.25)'));
 series.push(...lines(gx,gy,hCoast,'#808080',1.8,0));
 series.push(...lines(gx,gy,[hEq],'#808080',1.5,0,[5,3]));
 series.push(frame(gx,gy,120,280,-15,15));
}
const tauxName='{a|Taux (N/m}{b|2}{a|)}';
[[8,cbSla,cbSlaTicks,cbSlaLabels,'SLA (m)',37],[9,cbTaux,cbTauxTicks,cbTauxLabels,tauxName,40],[10,cbPct,cbPctTicks,cbPctLabels,'Percentage (%)',38]].forEach(c=>{
 const gx=addAxis(xAxes,c[0],'bottom',c[1][0],c[1][14],c[2],c[3],[],{axisLine:{show:false},name:c[4],nameLocation:'middle',nameGap:c[5],
   nameTextStyle:{fontFamily:FF,fontSize:FS,color:TXT,rich:{a:{fontFamily:FF,fontSize:FS,color:TXT},b:{fontFamily:FF,fontSize:15.5,color:TXT,padding:[0,0,10,0]}}}});
 xAxes[gx].axisTick.length=5;xAxes[gx].axisTick.lineStyle.width=1.2;xAxes[gx].axisLabel.margin=8;
 const gy=yAxes.length;
 yAxes.push({gridIndex:c[0],type:'value',min:0,max:1,show:false});
 series.push(...colorbar(gx,gy,c[1]));
});
const ttl=(text,pos,top)=>Object.assign({text,top,padding:0,textStyle:{fontFamily:FF,fontSize:FS,fontWeight:'normal',color:TXT}},pos);
const titles=[
 ttl('a. SLA & SSTA',{left:99},12),ttl('2023-like El Niños',{right:598},12),
 ttl('b. Taux',{left:657},12),ttl('2023-like El Niños',{right:39},12),
 ttl('c. SLA & SSTA',{left:99},407),ttl('Other El Niños',{right:598},407),
 ttl('d. Taux',{left:657},407),ttl('Other El Niños',{right:39},407),
 ttl('e.',{left:99},804),ttl('f.(r=0.63)',{left:657},804),
 ttl('g. Reg. on EQ Taux (sign reversed)',{left:99},1199),ttl('h. SLA s.d. change',{left:657},1199)
];
const chart=echarts.init(document.getElementById('c'),null,{renderer:'canvas',width:1179,height:1627});
chart.setOption({animation:false,backgroundColor:'#fff',title:titles,grid:grids,xAxis:xAxes,yAxis:yAxes,series});
</script></body></html>
